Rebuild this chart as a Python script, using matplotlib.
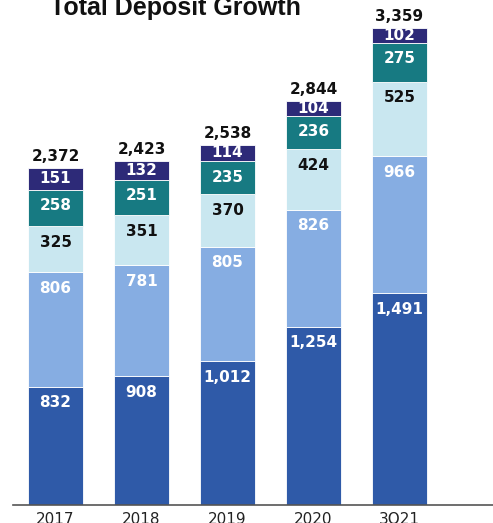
import matplotlib.pyplot as plt

# Data
years = ["2017", "2018", "2019", "2020", "3Q21"]
seg1 = [832, 908, 1012, 1254, 1491]
seg2 = [806, 781, 805, 826, 966]
seg3 = [325, 351, 370, 424, 525]
seg4 = [258, 251, 235, 236, 275]
seg5 = [151, 132, 114, 104, 102]
totals = ["2,372", "2,423", "2,538", "2,844", "3,359"]

segments = [seg1, seg2, seg3, seg4, seg5]
colors = ["#2f5aa8", "#86ade2", "#c9e7f0", "#177a82", "#2d2a78"]
text_colors = ["white", "white", "#111111", "white", "white"]

W, H = 493, 523
fig = plt.figure(figsize=(W / 100, H / 100), dpi=100)
ax = fig.add_axes([13 / W, 18 / H, 480 / W, 505 / H])

px_per_unit = 0.142
ax.set_ylim(0, 505 / px_per_unit)
ax.set_xlim((13 - 55.5) / 86, (493 - 55.5) / 86)

x = list(range(len(years)))
bottoms = [0] * len(years)
for seg, col, tc in zip(segments, colors, text_colors):
    ax.bar(x, seg, bottom=bottoms, width=0.64, color=col,
           edgecolor="white", linewidth=0.6)
    for i, v in enumerate(seg):
        top = bottoms[i] + v
        mid = bottoms[i] + v / 2
        y = max(top - 16 / px_per_unit, mid)
        ax.text(i, y, f"{v:,}", ha="center", va="center", color=tc,
                fontsize=11, fontweight="bold", family="DejaVu Sans")
    bottoms = [b + v for b, v in zip(bottoms, seg)]

for i, t in enumerate(totals):
    ax.text(i, bottoms[i] + 4 / px_per_unit, t, ha="center", va="bottom",
            color="#111111", fontsize=11, fontweight="bold")

for s in ["top", "right", "left"]:
    ax.spines[s].set_visible(False)
ax.spines["bottom"].set_color("#555555")
ax.spines["bottom"].set_linewidth(1.2)
ax.set_yticks([])
ax.set_xticks(x)
ax.set_xticklabels(years, fontsize=11, color="#222222")
ax.tick_params(axis="x", length=0, pad=5)

fig.text(50 / W, 1 - 15 / H, "Total Deposit Growth", ha="left", va="baseline",
         fontsize=18, fontweight="bold", color="#111111",
         family="Liberation Sans")

fig.savefig("out.png", dpi=100)
